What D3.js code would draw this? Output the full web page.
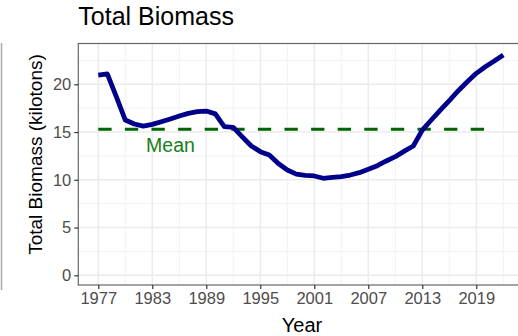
<!DOCTYPE html>
<html><head><meta charset="utf-8">
<script src="https://cdn.jsdelivr.net/npm/d3@7"></script>
<style>body{margin:0;background:#fff;}svg{display:block;font-family:"Liberation Sans",Arial,sans-serif;}</style>
</head><body>
<script>
const years = d3.range(1977, 2023);
const biomass = [20.97,21.08,18.7,16.26,15.84,15.63,15.8,16.08,16.36,16.68,16.96,17.13,17.2,16.9,15.56,15.5,14.5,13.54,12.95,12.6,11.7,11.03,10.6,10.47,10.4,10.16,10.26,10.33,10.5,10.75,11.1,11.48,11.97,12.42,13.0,13.54,15.2,16.26,17.3,18.3,19.33,20.27,21.15,21.84,22.44,23.07];
const meanValue = 15.29;
const meanLabel = "Mean";
const xTicks = [1977,1983,1989,1995,2001,2007,2013,2019];
const yTicks = [0,5,10,15,20];
const title = "Total Biomass";
const xTitle = "Year";
const yTitle = "Total Biomass (kilotons)";

const W = 518, H = 336;
const L = 78.3, T = 43.5, B = 285;
const svg = d3.select("body").append("svg").attr("width", W).attr("height", H);

const x = d3.scaleLinear().domain([1977, 2022]).range([98.3, 503.3]);
const y = d3.scaleLinear().domain([0, 20]).range([275.3, 84.3]);
const R = x(2024.25);

svg.append("line").attr("x1",1.5).attr("x2",1.5).attr("y1",43).attr("y2",290)
  .attr("stroke","#aaa").attr("stroke-width",1.5);

const g = svg.append("g");
g.append("rect").attr("x",L).attr("y",T).attr("width",R-L).attr("height",B-T).attr("fill","#fff");
const xMinor = xTicks.map(v=>v+3);
const yMinor = [2.5,7.5,12.5,17.5,22.5];
g.selectAll(".xm").data(xMinor).join("line").attr("x1",d=>x(d)).attr("x2",d=>x(d)).attr("y1",T).attr("y2",B)
  .attr("stroke","#f0f0f0").attr("stroke-width",0.8);
g.selectAll(".ym").data(yMinor).join("line").attr("y1",d=>y(d)).attr("y2",d=>y(d)).attr("x1",L).attr("x2",R)
  .attr("stroke","#f0f0f0").attr("stroke-width",0.8);
g.selectAll(".xg").data(xTicks).join("line").attr("x1",d=>x(d)).attr("x2",d=>x(d)).attr("y1",T).attr("y2",B)
  .attr("stroke","#ebebeb").attr("stroke-width",1.5);
g.selectAll(".yg").data(yTicks).join("line").attr("y1",d=>y(d)).attr("y2",d=>y(d)).attr("x1",L).attr("x2",R)
  .attr("stroke","#ebebeb").attr("stroke-width",1.5);

g.append("line").attr("x1",x(1977)).attr("x2",x(2021)).attr("y1",y(meanValue)).attr("y2",y(meanValue))
  .attr("stroke","#006400").attr("stroke-width",3).attr("stroke-dasharray","13.3,13.3");
g.append("text").attr("x",170.5).attr("y",151.5).attr("text-anchor","middle").attr("fill","#158015")
  .attr("font-size",19.5).text(meanLabel);

const line = d3.line().x((d,i)=>x(years[i])).y(d=>y(d));
g.append("path").datum(biomass).attr("d",line).attr("fill","none").attr("stroke","#00008b")
  .attr("stroke-width",4.8).attr("stroke-linejoin","round").attr("stroke-linecap","butt");

g.append("rect").attr("x",L).attr("y",T).attr("width",R-L).attr("height",B-T).attr("fill","none")
  .attr("stroke","#666").attr("stroke-width",1.2);

const xa = svg.append("g").attr("transform",`translate(0,${B})`)
  .call(d3.axisBottom(x).tickValues(xTicks).tickFormat(d3.format("d")).tickSize(4).tickPadding(3));
const ya = svg.append("g").attr("transform",`translate(${L},0)`)
  .call(d3.axisLeft(y).tickValues(yTicks).tickSize(4).tickPadding(3));
[xa,ya].forEach(a=>{
  a.select(".domain").remove();
  a.selectAll(".tick line").attr("stroke","#333").attr("stroke-width",1.2);
  a.selectAll(".tick text").attr("fill","#4d4d4d").attr("font-size",16.5).attr("font-family","Liberation Sans, Arial, sans-serif");
});

svg.append("text").attr("x",L).attr("y",25).attr("font-size",25).attr("fill","#000").text(title);
svg.append("text").attr("x",302).attr("y",332).attr("text-anchor","middle").attr("font-size",20).attr("fill","#000").text(xTitle);
svg.append("text").attr("transform","translate(42,154.5) rotate(-90)").attr("text-anchor","middle")
  .attr("font-size",19).attr("fill","#000").text(yTitle);
</script>
</body></html>
